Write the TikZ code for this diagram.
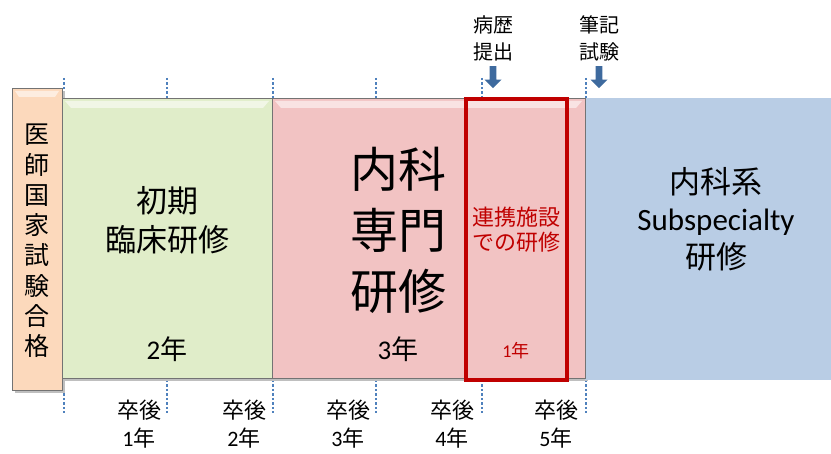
\documentclass[tikz,border=0pt]{standalone}
\usepackage{fontspec}
\setmainfont{Noto Sans CJK JP}
\newfontfamily\latfont{Carlito}
\usetikzlibrary{arrows.meta,shapes.arrows}
\definecolor{orangefill}{HTML}{FCD9BC}
\definecolor{greenfill}{HTML}{E0EDC9}
\definecolor{pinkfill}{HTML}{F2C3C3}
\definecolor{bluefill}{HTML}{B9CDE5}
\definecolor{redline}{HTML}{C00000}
\definecolor{tickblue}{HTML}{4F81BD}
\definecolor{arrowblue}{HTML}{3E6A9E}
\tikzset{
  block/.style={draw=black!55, line width=0.8pt, anchor=north west, inner sep=0pt},
  tick/.style={draw=tickblue, line width=1.6pt, dash pattern=on 2.5pt off 2pt},
  botlabel/.style={align=center, font=\fontsize{22}{28}\selectfont, inner sep=0pt},
  toplabel/.style={align=center, font=\fontsize{20}{27}\selectfont, inner sep=0pt},
  downarrow/.style={single arrow, shape border rotate=270, fill=arrowblue, draw=none,
     minimum height=22pt, minimum width=17pt, single arrow head extend=2.5pt, inner sep=1.5pt},
}
\begin{document}
\begin{tikzpicture}[x=1pt,y=-1pt]
\useasboundingbox (0,0) rectangle (831,454);
% ticks
\foreach \x/\n in {64/a,167/b,273/c,376/d,482/e,586/f}{
  \coordinate (t\n1) at (\x,78);
  \coordinate (t\n2) at (\x,98);
  \coordinate (b\n1) at (\x,380);
  \coordinate (b\n2) at (\x,413);
  \draw[tick] (t\n1) -- (t\n2);
  \draw[tick] (b\n1) -- (b\n2);
}
% shadows
\fill[black!25] (15,91) rectangle (65,393);
\fill[black!25] (65,101) rectangle (275,381);
\fill[black!25] (275,101) rectangle (588,381);
% blocks
\node[block, fill=bluefill, draw=none, minimum width=246pt, minimum height=282pt] (blue) at (585,98) {};
\node[block, fill=pinkfill, minimum width=313pt, minimum height=280pt] (pink) at (272,98) {};
\node[block, fill=greenfill, minimum width=210pt, minimum height=280pt] (green) at (62,98) {};
\node[block, fill=orangefill, minimum width=50pt, minimum height=302pt] (orange) at (12,88) {};
% top highlights
\fill[white, opacity=0.55] (15,91) -- (59,91) -- (55,97) -- (19,97) -- cycle;
\fill[white, opacity=0.55] (65,101) -- (269,101) -- (263,108) -- (71,108) -- cycle;
\fill[white, opacity=0.55] (275,101) -- (582,101) -- (576,108) -- (281,108) -- cycle;
% red frame
\draw[redline, line width=4pt] (466,99) rectangle (567,380);
% texts
\node[align=center, font=\fontsize{25}{30.3}\selectfont, inner sep=0pt] (otext) at (37,241) {医\\師\\国\\家\\試\\験\\合\\格};
\node[align=center, font=\fontsize{31}{39}\selectfont, inner sep=0pt] (gtext) at (167,220.5) {初期\\臨床研修};
\node[font=\fontsize{27}{30}\selectfont, inner sep=0pt] (gyear) at (167,349) {{\latfont 2}年};
\node[align=center, font=\fontsize{48}{61}\selectfont, inner sep=0pt] (ptext) at (398,230) {内科\\専門\\研修};
\node[font=\fontsize{27}{30}\selectfont, inner sep=0pt] (pyear) at (398,349) {{\latfont 3}年};
\node[align=center, text=redline, font=\fontsize{22}{25}\selectfont, inner sep=0pt] (rtext) at (516,230) {連携施設\\での研修};
\node[text=redline, font=\fontsize{18}{22}\selectfont, inner sep=0pt] (ryear) at (516,351) {{\latfont 1}年};
\node[align=center, font=\fontsize{31}{37.5}\selectfont, inner sep=0pt] (btext) at (716,219) {内科系\\{\latfont Subspecialty}\\研修};
% bottom labels
\node[botlabel] (l1) at (139,424) {卒後\\{\latfont 1}年};
\node[botlabel] (l2) at (244,424) {卒後\\{\latfont 2}年};
\node[botlabel] (l3) at (348,424) {卒後\\{\latfont 3}年};
\node[botlabel] (l4) at (452,424) {卒後\\{\latfont 4}年};
\node[botlabel] (l5) at (556,424) {卒後\\{\latfont 5}年};
% top labels and arrows
\node[toplabel] (h1) at (493,38) {病歴\\提出};
\node[toplabel] (h2) at (599,38) {筆記\\試験};
\node[downarrow, anchor=north] (a1) at (493,66) {};
\node[downarrow, anchor=north] (a2) at (599,66) {};
\end{tikzpicture}
\end{document}
